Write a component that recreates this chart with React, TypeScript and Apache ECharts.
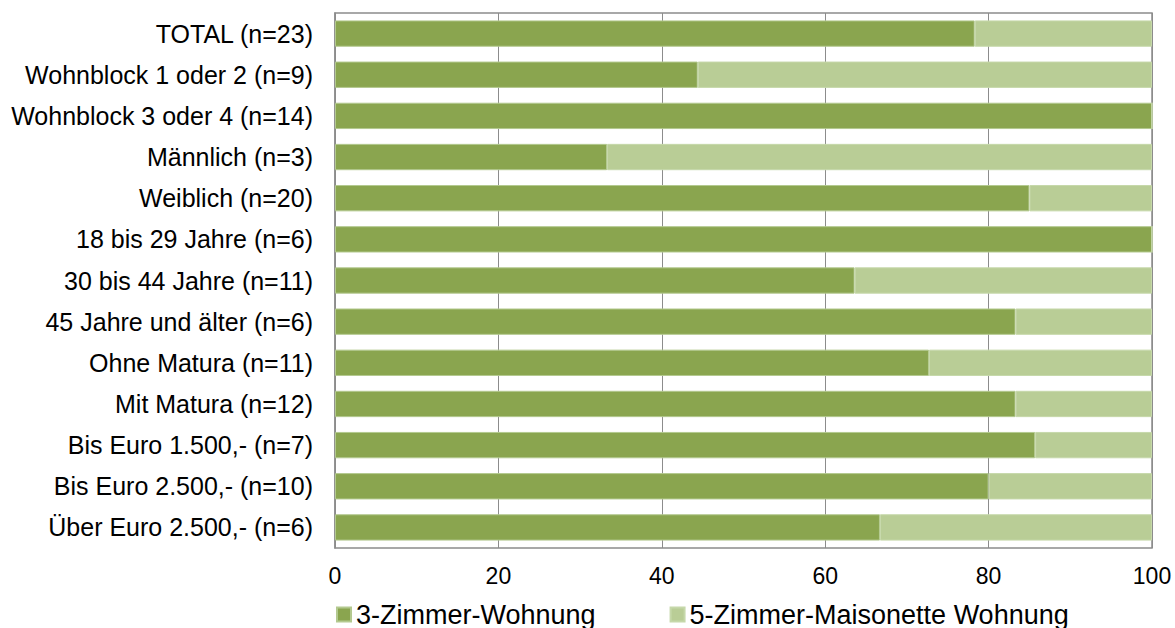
import React, { useEffect, useRef } from "react";
import * as echarts from "echarts";

const categories = [
  "TOTAL (n=23)",
  "Wohnblock 1 oder 2 (n=9)",
  "Wohnblock 3 oder 4 (n=14)",
  "Männlich (n=3)",
  "Weiblich (n=20)",
  "18 bis 29 Jahre (n=6)",
  "30 bis 44 Jahre (n=11)",
  "45 Jahre und älter (n=6)",
  "Ohne Matura (n=11)",
  "Mit Matura (n=12)",
  "Bis Euro 1.500,- (n=7)",
  "Bis Euro 2.500,- (n=10)",
  "Über Euro 2.500,- (n=6)",
];

const dreiZimmer = [78.3, 44.4, 100, 33.3, 85.0, 100, 63.6, 83.3, 72.7, 83.3, 85.7, 80.0, 66.7];
const fuenfZimmer = [21.7, 55.6, 0, 66.7, 15.0, 0, 36.4, 16.7, 27.3, 16.7, 14.3, 20.0, 33.3];

const xTicks = { min: 0, max: 100, interval: 20 };

export default function App() {
  const ref = useRef<HTMLDivElement>(null);
  useEffect(() => {
    if (!ref.current) return;
    const chart = echarts.init(ref.current, undefined, { renderer: "svg" });
    const font = "Liberation Sans, Arial, sans-serif";
    chart.setOption({
      animation: false,
      grid: {
        left: 335,
        right: 23,
        top: 13,
        bottom: 80,
        show: true,
        borderColor: "#8c8c8c",
        borderWidth: 1.5,
        containLabel: false,
      },
      legend: {
        left: 336,
        top: 601,
        padding: 0,
        itemWidth: 14,
        itemHeight: 14,
        itemGap: 74,
        icon: "rect",
        textStyle: { fontFamily: font, fontSize: 27, color: "#000" },
        data: ["3-Zimmer-Wohnung", "5-Zimmer-Maisonette Wohnung"],
      },
      xAxis: {
        type: "value",
        min: xTicks.min,
        max: xTicks.max,
        interval: xTicks.interval,
        axisLine: { show: false },
        axisTick: { show: false },
        axisLabel: { fontFamily: font, fontSize: 23, color: "#000", margin: 16 },
        splitLine: { show: true, lineStyle: { color: "#8c8c8c", width: 1 } },
      },
      yAxis: {
        type: "category",
        inverse: true,
        data: categories,
        axisLine: { show: true, lineStyle: { color: "#8c8c8c", width: 1.5 } },
        axisTick: { show: false },
        axisLabel: { fontFamily: font, fontSize: 25, color: "#000", margin: 22 },
      },
      series: [
        {
          name: "3-Zimmer-Wohnung",
          type: "bar",
          stack: "total",
          data: dreiZimmer,
          barCategoryGap: "36%",
          itemStyle: { color: "#8aa54f", borderColor: "#b3c98f", borderWidth: 1 },
        },
        {
          name: "5-Zimmer-Maisonette Wohnung",
          type: "bar",
          stack: "total",
          data: fuenfZimmer,
          barCategoryGap: "36%",
          itemStyle: { color: "#b9cd96", borderColor: "#c6d8aa", borderWidth: 1 },
        },
      ],
    });
    return () => chart.dispose();
  }, []);
  return <div ref={ref} style={{ width: 1175, height: 628, position: "absolute", left: 0, top: 0 }} />;
}
